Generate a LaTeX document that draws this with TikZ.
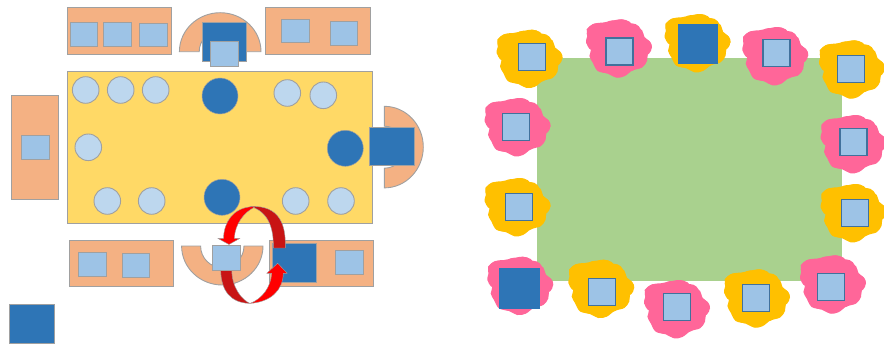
\documentclass[tikz,border=0pt]{standalone}
\definecolor{seatorange}{HTML}{F4B183}
\definecolor{lightblue}{HTML}{9DC3E6}
\definecolor{paleblue}{HTML}{BDD7EE}
\definecolor{darkblue}{HTML}{2E75B6}
\definecolor{tableyellow}{HTML}{FFD966}
\definecolor{lawngreen}{HTML}{A9D18E}
\definecolor{blobgold}{HTML}{FFC000}
\definecolor{blobpink}{HTML}{FF6699}
\definecolor{edgegray}{HTML}{A0A0A0}
\definecolor{edgeblue}{HTML}{41719C}
\definecolor{arrowdark}{HTML}{C81414}
\tikzset{
  seat/.style={draw=edgegray,line width=0.9pt,fill=seatorange},
  pale/.style={draw=edgegray,line width=0.9pt,fill=lightblue},
  dark/.style={draw=edgegray,line width=0.5pt,fill=darkblue},
  disc/.style={draw=edgegray,line width=0.9pt,fill=paleblue},
  framed/.style={draw=edgeblue,line width=1.2pt,fill=lightblue},
  swap/.style={draw=edgegray,line width=0.4pt,line join=round},
}
% lobes of one cloud: dx/dy/radius
\def\lobes{-6/-18/10,3/-18/11,13/-15/10,18/-9/8,24/-1/9,20/6/9,19/12/8,11/15/8,-1/20/9,-12/16/9,-20/8/8,-23/-6/9,-22/-15/10}
\begin{document}
\begin{tikzpicture}[x=1pt,y=-1pt]
    \useasboundingbox (0,0) rectangle (884,348);
    % long table
    \draw[draw=edgegray,line width=0.9pt,fill=tableyellow] (67.3,71.3) rectangle (372.7,223);
    % benches
    \draw[seat] (67,7.3) rectangle (171.3,54);
    \draw[seat] (265.7,7.3) rectangle (370,54);
    \draw[seat] (11.3,95) rectangle (58,199);
    \draw[seat] (69,240.3) rectangle (173.3,286.7);
    \draw[seat] (269,240.3) rectangle (373,286.7);
    % half rings
    \draw[seat] (179.4,51.7) arc (180:360:40.8 and 39) -- (241.2,51.7) arc (360:180:21) -- cycle;
    \draw[seat] (181.6,246) arc (180:0:40.7 and 39) -- (244,246) arc (0:180:21.7) -- cycle;
    \draw[seat] (384.3,106.3) arc (-90:90:39 and 40.8) -- (384.3,168.2) arc (90:-90:21) -- cycle;
    % pale squares on the benches
    \draw[pale] (70.3,22.3) rectangle (97.3,46.7);
    \draw[pale] (103,22.3) rectangle (131.3,46.7);
    \draw[pale] (139.3,23.3) rectangle (167.3,46.7);
    \draw[pale] (281.3,19.3) rectangle (309.3,42.7);
    \draw[pale] (330.7,21.3) rectangle (357.7,45.7);
    \draw[pale] (21.7,135.3) rectangle (49.7,159.3);
    \draw[pale] (78.3,252.7) rectangle (106.7,276.3);
    \draw[pale] (122.7,253.7) rectangle (149.7,277.3);
    \draw[pale] (335.7,250.7) rectangle (363.7,274.3);
    % dark squares
    \draw[dark] (202,22.3) rectangle (246.3,61.3);
    \draw[dark] (369.3,127) rectangle (414,165.3);
    \draw[dark] (272,243.7) rectangle (316.3,282.7);
    \draw[dark] (9.3,304) rectangle (54,343.3);
    \draw[pale] (210,41.7) rectangle (238,66.7);
    % guests at the table
    \foreach \cx/\cy in {85.7/90,120.7/90,155.7/90,287.3/93,323.3/95.3,88.3/147.3,107.3/201,151.7/201,295.7/201,341/201}{%
      \draw[disc] (\cx,\cy) circle (13.3);}
    \foreach \cx/\cy in {220/96,345.3/148.3,222/197.3}{%
      \draw[dark] (\cx,\cy) circle (18);}
    % swap arrows
    \draw[swap,fill=arrowdark] (250,206.5) .. controls (280,205) and (286,225) .. (285.3,248)
      -- (273.3,248) .. controls (274,228) and (268,211) .. (250,206.5) -- cycle;
    \draw[swap,fill=red] (251.7,206.7) .. controls (233,208) and (224,222) .. (223.5,238.3)
      -- (217.7,238.3) -- (229,244.5) -- (240,238.3) -- (234.3,238.3)
      .. controls (235,224) and (244,212) .. (255,207) -- cycle;
    \draw[swap,fill=arrowdark] (220.7,270) .. controls (221,290) and (230,303) .. (250,303.4)
      .. controls (242,300) and (232,288) .. (231.7,270) -- cycle;
    \draw[swap,fill=red] (250,303.4) .. controls (271,302) and (283,290) .. (283.3,273.3)
      -- (287.3,273.3) -- (277.7,263.3) -- (266.7,273.3) -- (271.7,273.3)
      .. controls (271,287) and (262,299) .. (250,303.4) -- cycle;
    \draw[pale] (212.3,245.7) rectangle (240.3,270.3);
    % lawn
    \fill[lawngreen] (537.3,58.3) rectangle (842.3,280.7);
    % clouds around the lawn
    \foreach \cx/\cy/\col in {529.3/58.7/blobgold,618.7/48.3/blobpink,697.3/43/blobgold,775/56/blobpink,
      851.7/69.3/blobgold,853.3/144/blobpink,517.3/127/blobpink,517.3/207/blobgold,853.3/213/blobgold,
      520/285.7/blobpink,601/288.7/blobgold,676.7/309/blobpink,756.7/298.3/blobgold,832.7/284.3/blobpink}{%
      \fill[\col,shift={(\cx,\cy)}] plot[smooth cycle,tension=0.6] coordinates {
        (-7.7,-27.3) (2.3,-29) (10.7,-26.7) (15.7,-21.3) (23.3,-18.3) (25.7,-11.3)
        (31.3,-6.7) (33.3,-0.7) (29,5.3) (28.3,12.7) (23.3,19.3) (14,22)
        (5.7,28) (-2.7,29.3) (-11,25.3) (-21,22.7) (-26,14.3) (-29.3,7.7)
        (-27.7,1) (-32.7,-5.7) (-31,-14) (-32,-19) (-24.3,-24.7) (-16,-25.7)};
      \foreach \dx/\dy/\rr in \lobes{%
        \fill[\col] (\cx+\dx,\cy+\dy) circle (\rr);}}
    % squares on the clouds
    \foreach \cx/\cy in {532/57.3,619.5/51.5,776.5/53,850.7/69,853.5/142,515.8/127.2,519/207.3,
      855.2/213.2,601.8/291.8,677.3/306.7,756/297.8,831.3/287.2}{%
      \draw[framed] (\cx-13.5,\cy-13.5) rectangle (\cx+13.5,\cy+13.5);}
    \fill[darkblue] (678,24) rectangle (718,64);
    \fill[darkblue] (499.2,267.5) rectangle (540.2,308.9);
  \end{tikzpicture}
\end{document}
